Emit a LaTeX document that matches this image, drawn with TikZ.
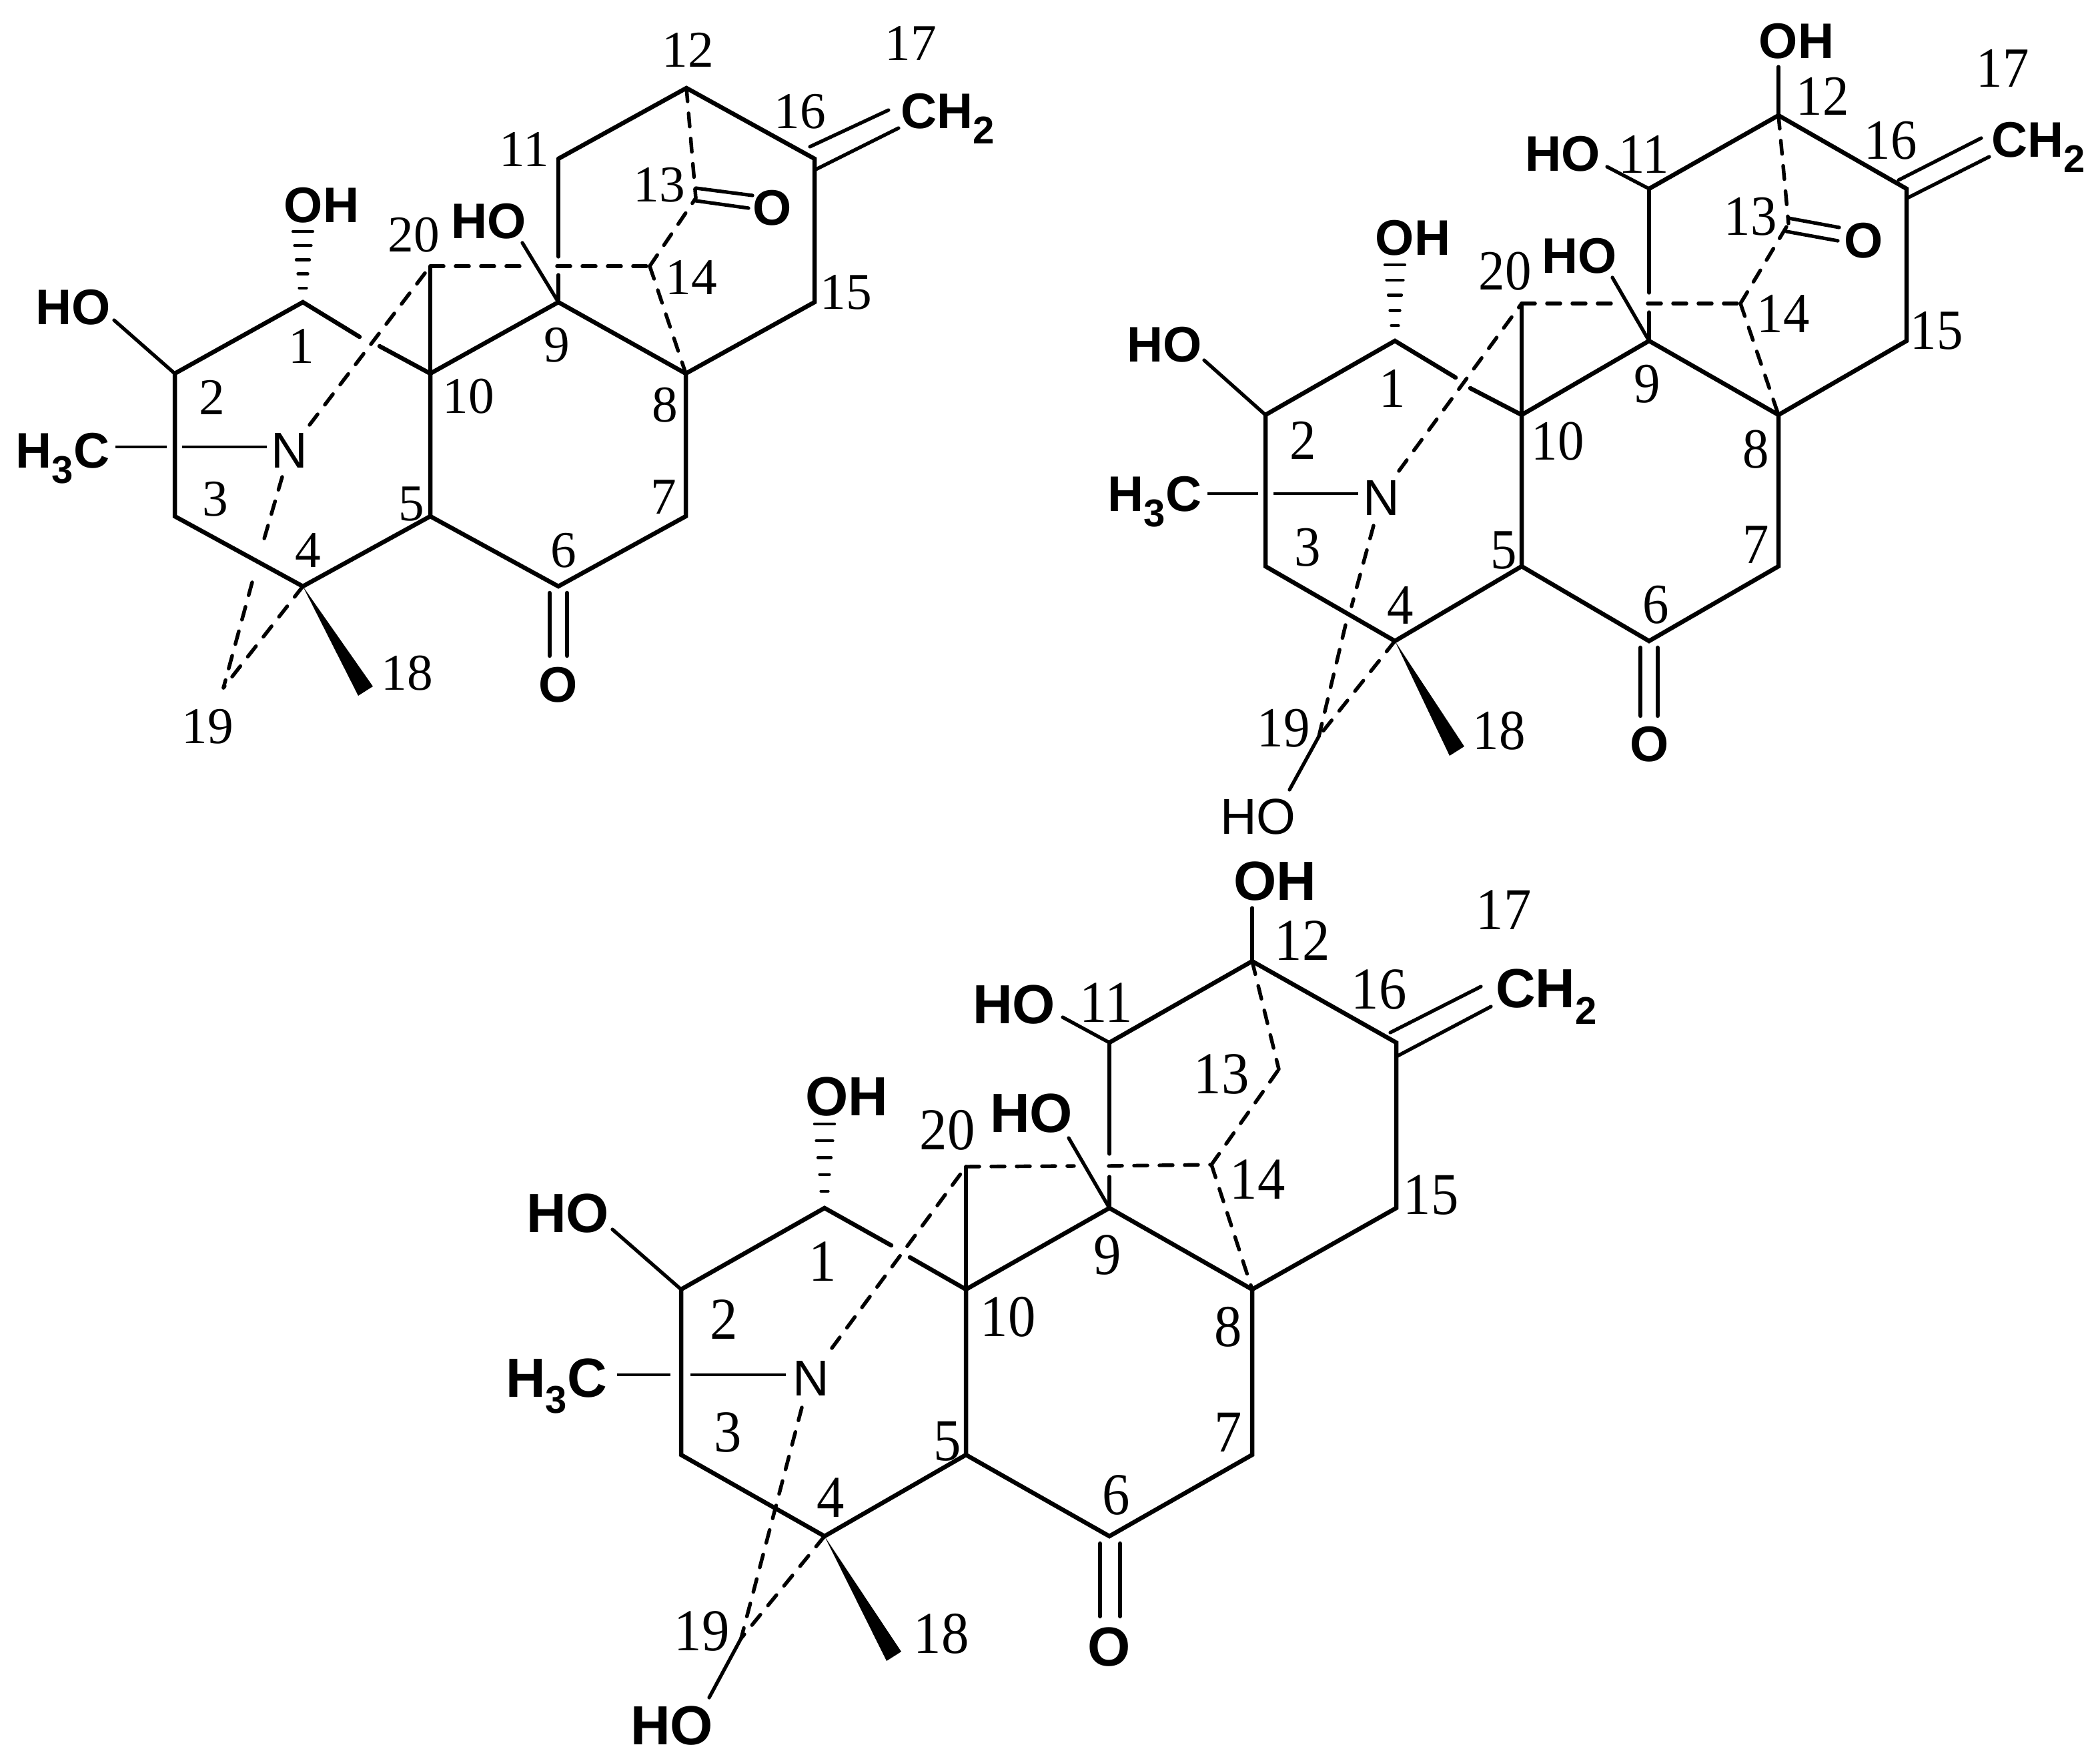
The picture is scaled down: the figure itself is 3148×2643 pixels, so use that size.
\documentclass[tikz,border=0pt]{standalone}
\usepackage{fontspec}
\usepackage{graphicx}
\setmainfont{Liberation Serif}
\newfontfamily\lsans{Liberation Sans}
\usetikzlibrary{calc}
\newcommand\lowsub[1]{\raisebox{-0.3em}{\fontsize{16.5}{16.5}\selectfont #1}}
\newcommand\lsx{1}\newcommand\lsy{1}
\tikzset{
  bond/.style={line width=1.85pt,line cap=round,line join=miter,draw=black},
  midbond/.style={line width=1.5pt,line cap=round,draw=black},
  thinbond/.style={line width=1.3pt,draw=black},
  dbond/.style={line width=1.55pt,line cap=round,draw=black,dash pattern=on 5.7pt off 5.1pt},
  hashbar/.style={line width=1.2pt,line cap=round,draw=black},
  numlab/.style={inner sep=0pt,font=\fontsize{22}{22}\selectfont},
  boldlab/.style={inner sep=0pt,font=\fontsize{21.3}{21.3}\selectfont\lsans\bfseries},
  plainlab/.style={inner sep=0pt,font=\fontsize{21.5}{21.5}\selectfont\lsans}
}
% common skeleton of the three molecules
\newcommand\skel[1]{%
  \draw[bond] (#1c2)--(#1c1)--(#1g1);
  \draw[bond] (#1g2)--(#1c10)--(#1c9)--(#1c8)--(#1c15)--(#1c16)--(#1c12)--(#1c11);
  \draw[midbond] (#1c11)--(#1g3);
  \draw[midbond] (#1g4)--(#1c9);
  \draw[midbond] (#1c20)--(#1c10);
  \draw[bond] (#1c10)--(#1c5)--(#1c4)--(#1c3)--(#1c2);
  \draw[bond] (#1c5)--(#1c6)--(#1c7)--(#1c8);
  \draw[bond] (#1c2)--(#1g5);
  \draw[midbond] (#1ho2)--(#1c2);
  \draw[midbond] (#1ho9)--(#1c9);
  \draw[thinbond] (#1me)--(#1g6);
  \draw[thinbond] (#1g7)--(#1g8);
  \draw[midbond] (#1d1)--(#1d2);
  \draw[midbond] (#1d3)--(#1d4);
  \draw[dbond] (#1c20)--(#1h1);
  \draw[dbond] (#1h2)--(#1c14);
  \draw[dbond] (#1c14)--(#1c8);
  \draw[dbond] (#1c14)--(#1c13);
  \draw[dbond] (#1c12)--(#1c13);
  \draw[dbond] (#1ng)--(#1c20);
  \draw[dbond] (#1c4)--(#1c19);
  % hashed wedge at C1
  \foreach \t/\hw in {0/15,.2/12.5,.4/10,.6/7.5,.8/5.5}
    \draw[hashbar] ($(#1oh)!\t!(#1c1)+(-\hw,0)$)--($(#1oh)!\t!(#1c1)+(\hw,0)$);
  % solid wedge at C4
  \fill (#1c4)--($(#1w)+(11,-7)$)--($(#1w)+(-11,7)$)--cycle;
}
\begin{document}
\begin{tikzpicture}[x=0.01cm,y=-0.01cm]
\useasboundingbox (0,0) rectangle (3148,2643);

% ---------- molecule A (top left)
\foreach \n/\x/\y in {c1/454/453,c2/262/560,c3/262/774,c4/454/879,c5/645/774,c6/837/879,c7/1028/774,
  c8/1028/560,c9/837/453,c10/645/560,c11/837/238,c12/1029/132,c13/1043/297,c14/974/399,c15/1221/453,
  c16/1221/238,c19/335/1031,c20/645/399,
  g1/539/505,g2/569/519,g3/837/385,g4/837/412,g5/262/560,g6/250/670,g7/273/670,g8/400/670,me/173/670,
  h1/783/399,h2/835/399,
  ng/464/637,ho2/171/480,ho9/783/364,oh/454/347,w/548/1036,
  d1/1214/220,d2/1332/165,d3/1221/255,d4/1347/192,
  ns/423/715,nm/393/818,nr/378/873,
  o1/824/889,o2/824/983,o3/850/889,o4/850/983,
  k1/1043/282,k2/1128/293,k3/1043/301,k4/1122/312}
  \coordinate (a\n) at (\x,\y);
\skel{a}
\draw[dbond] (ans)--(anm);
\draw[dbond] (anr)--(ac19);
\draw[bond] (ao1)--(ao2);
\draw[bond] (ao3)--(ao4);
\draw[midbond] (ak1)--(ak2);
\draw[midbond] (ak3)--(ak4);
\renewcommand\lsx{1}\renewcommand\lsy{1}
\foreach \t/\x/\y in {12/1031/75,17/1365/65,16/1199/167,11/786/224,13/988/277,20/620/352,14/1036/416,
  15/1268/438,1/452/519,9/835/517,10/702/594,8/997/607,2/318/596,3/323/748,7/995/745,5/617/756,
  6/845/825,4/462/825,18/610/1009,19/311/1089}
  \node[numlab] (al\t) at (\x,\y) {\scalebox{\lsx}[\lsy]{\t}};
\node[boldlab] (aOH1) at (482,308) {OH};
\node[boldlab] (aHO2) at (110,461) {HO};
\node[boldlab] (aHO9) at (733,332) {HO};
\node[boldlab] (aMe) at (94,687) {H\lowsub{3}C};
\node[boldlab] (aCH) at (1421,178) {CH\lowsub{2}};
\node[boldlab] (aO6) at (837,1027) {O};
\node[boldlab] (aO13) at (1158,312) {O};
\node[plainlab] (aN) at (434,675) {N};

% ---------- molecule B (top right)
\foreach \n/\x/\y in {c1/2091/511,c2/1897/622,c3/1897/849,c4/2091/961,c5/2281/849,c6/2472/961,c7/2666/849,
  c8/2666/622,c9/2472/511,c10/2281/622,c11/2472/283,c12/2666/173,c13/2681/335,c14/2609/455,c15/2858/511,
  c16/2858/283,c19/1977/1104,c20/2281/455,
  g1/2182/566,g2/2204/582,g3/2472/439,g4/2472/468,g5/1897/622,g6/1886/740,g7/1909/740,g8/2036/740,me/1810/740,
  h1/2420/455,h2/2470/455,
  ng/2097/706,ho2/1805/540,ho9/2417/416,oh/2091/397,w/2184/1126,
  d1/2846/270,d2/2970/207,d3/2859/297,d4/2982/235,
  ns/2059/788,nm/2026/909,nr/2017/937,
  o1/2459/971,o2/2459/1073,o3/2485/971,o4/2485/1073,
  k1/2681/327,k2/2757/341,k3/2678/347,k4/2755/361,
  oh12/2666/100,ho11/2409/250,ho19/1933/1184}
  \coordinate (b\n) at (\x,\y);
\skel{b}
\draw[dbond] (bns)--(bnm);
\draw[dbond] (bnr)--(bc19);
\draw[bond] (bo1)--(bo2);
\draw[bond] (bo3)--(bo4);
\draw[midbond] (bk1)--(bk2);
\draw[midbond] (bk3)--(bk4);
\draw[midbond] (boh12)--(bc12);
\draw[midbond] (bho11)--(bc11);
\draw[midbond] (bc19)--(bho19);
\renewcommand\lsx{1.02}\renewcommand\lsy{1.1}
\foreach \t/\x/\y in {12/2732/144,17/3002/102,16/2834/211,11/2464/231,13/2624/325,20/2256/407,14/2673/470,
  15/2903/496,1/2087/582,9/2469/576,10/2335/662,8/2632/674,2/1953/660,3/1960/821,7/2632/817,5/2254/825,
  6/2482/907,4/2099/907,18/2247/1096,19/1924/1092}
  \node[numlab] (bl\t) at (\x,\y) {\scalebox{\lsx}[\lsy]{\t}};
\node[boldlab] (bOH1) at (2118,357) {OH};
\node[boldlab] (bOH12) at (2693,62) {OH};
\node[boldlab] (bHO11) at (2343,231) {HO};
\node[boldlab] (bHO2) at (1746,517) {HO};
\node[boldlab] (bHO9) at (2368,384) {HO};
\node[boldlab] (bMe) at (1731,752) {H\lowsub{3}C};
\node[boldlab] (bCH) at (3056,221) {CH\lowsub{2}};
\node[boldlab] (bO6) at (2473,1116) {O};
\node[boldlab] (bO13) at (2794,361) {O};
\node[plainlab] (bN) at (2071,746) {N};
\node[plainlab] (bHO19) at (1886,1224) {HO};

% ---------- molecule C (bottom)
\foreach \n/\x/\y in {c1/1236/1811,c2/1021/1933,c3/1021/2181,c4/1236/2303,c5/1448/2181,c6/1663/2303,c7/1877/2181,
  c8/1877/1933,c9/1663/1811,c10/1448/1933,c11/1663/1563,c12/1877/1441,c13/1917/1603,c14/1816/1746,c15/2093/1811,
  c16/2093/1563,c19/1111/2456,c20/1448/1749,
  g1/1336/1867,g2/1364/1885,g3/1663/1730,g4/1663/1764,g5/1021/1933,g6/1005/2061,g7/1035/2061,g8/1178/2061,me/925/2061,
  h1/1610/1748,h2/1662/1748,
  ng/1247/2021,ho2/918/1843,ho9/1602/1706,oh/1236/1685,w/1340/2483,
  d1/2084/1548,d2/2220/1479,d3/2095/1583,d4/2235/1509,
  ns/1202/2110,
  o1/1649/2314,o2/1649/2423,o3/1679/2314,o4/1679/2423,
  oh12/1877/1361,ho11/1593/1525,ho19/1063/2545}
  \coordinate (c\n) at (\x,\y);
\skel{c}
\draw[dbond] (cns)--(cc19);
\draw[bond] (co1)--(co2);
\draw[bond] (co3)--(co4);
\draw[midbond] (coh12)--(cc12);
\draw[midbond] (cho11)--(cc11);
\draw[midbond] (cc19)--(cho19);
\renewcommand\lsx{1.07}\renewcommand\lsy{1.15}
\foreach \t/\x/\y in {12/1952/1410,17/2254/1364,16/2067/1483,11/1658/1503,13/1831/1610,20/1420/1694,14/1885/1768,
  15/2145/1792,1/1233/1891,9/1660/1881,10/1511/1974,8/1841/1989,2/1085/1978,3/1091/2147,7/1841/2147,5/1420/2161,
  6/1673/2241,4/1245/2245,18/1411/2449,19/1052/2445}
  \node[numlab] (cl\t) at (\x,\y) {\scalebox{\lsx}[\lsy]{\t}};
\tikzset{boldlab/.append style={font=\fontsize{23.5}{23.5}\selectfont\lsans\bfseries}}
\node[boldlab] (cOH1) at (1269,1644) {OH};
\node[boldlab] (cOH12) at (1911,1321) {OH};
\node[boldlab] (cHO11) at (1520,1506) {HO};
\node[boldlab] (cHO2) at (851,1819) {HO};
\node[boldlab] (cHO9) at (1546,1669) {HO};
\node[boldlab] (cHO19) at (1007,2587) {HO};
\node[boldlab] (cMe) at (834,2078) {H\lowsub{3}C};
\node[boldlab] (cCH) at (2318,1494) {CH\lowsub{2}};
\node[boldlab] (cO6) at (1663,2469) {O};
\node[plainlab] (cN) at (1216,2066) {N};
\end{tikzpicture}
\end{document}
